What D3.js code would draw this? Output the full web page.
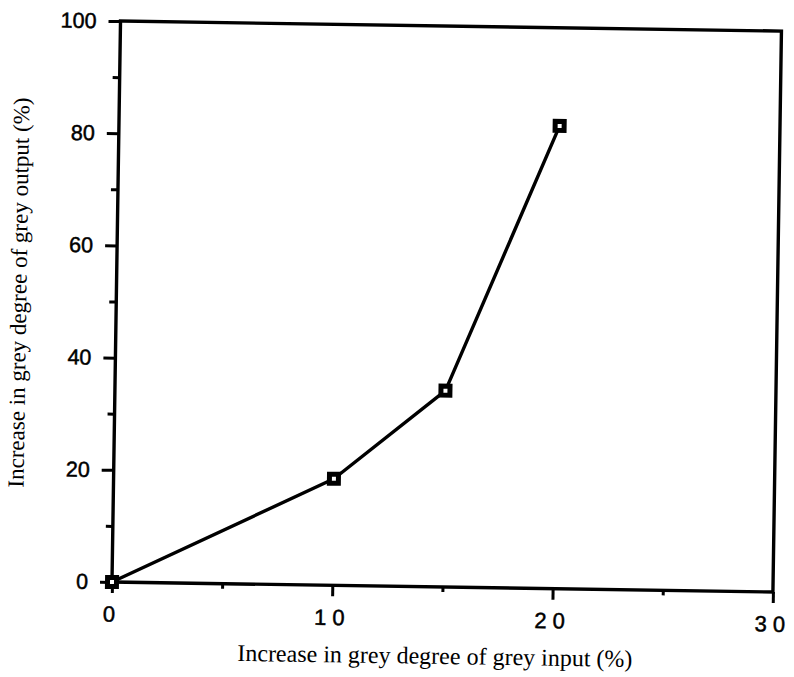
<!DOCTYPE html>
<html>
<head>
<meta charset="utf-8">
<script src="https://cdn.jsdelivr.net/npm/d3@7"></script>
<style>
  html, body { margin: 0; padding: 0; background: #fff; }
  svg { display: block; }
</style>
</head>
<body>
<svg id="chart" width="794" height="677"></svg>
<script>
// Grey degree transfer: input increase vs. output increase
const inputIncrease  = [0, 10, 15, 20];
const outputIncrease = [0, 19, 35, 82.5];

const xMajorTicks = [0, 10, 20, 30];
const xMinorTicks = [5, 15, 25];
const yMajorTicks = [0, 20, 40, 60, 80, 100];
const yMinorTicks = [10, 30, 50, 70, 90];

const xTitle = "Increase in grey degree of grey input (%)";
const yTitle = "Increase in grey degree of grey output (%)";

const plotW = 661, plotH = 561;
const originX = 112, originY = 582;
const tilt = 0.87; // the whole plate sits slightly clockwise

const svg = d3.select("#chart");
const g = svg.append("g")
  .attr("transform", `translate(${originX},${originY}) rotate(${tilt})`);

const x = d3.scaleLinear().domain([0, 30]).range([0, plotW]);
const y = d3.scaleLinear().domain([0, 100]).range([0, -plotH]);

const ink = "#000";

// X axis ticks (outward, below the frame)
const xMaj = g.append("g")
  .call(d3.axisBottom(x).tickValues(xMajorTicks).tickSize(11).tickPadding(13)
    .tickFormat(d3.format("d")));
const xMin = g.append("g")
  .call(d3.axisBottom(x).tickValues(xMinorTicks).tickSize(5).tickFormat(""));

// Y axis ticks (outward, left of the frame)
const yMaj = g.append("g")
  .call(d3.axisLeft(y).tickValues(yMajorTicks).tickSize(12).tickPadding(12)
    .tickFormat(d3.format("d")));
const yMin = g.append("g")
  .call(d3.axisLeft(y).tickValues(yMinorTicks).tickSize(7).tickFormat(""));

[xMaj, xMin, yMaj, yMin].forEach(a => {
  a.select(".domain").remove();
  a.selectAll(".tick line").attr("stroke", ink).attr("stroke-width", 3);
});

xMaj.selectAll(".tick text")
  .attr("font-family", "'Liberation Sans', Arial, sans-serif")
  .attr("font-size", 22)
  .attr("letter-spacing", 6)
  .attr("fill", ink)
  .attr("stroke", ink).attr("stroke-width", 0.5);

yMaj.selectAll(".tick text")
  .attr("font-family", "'Liberation Sans', Arial, sans-serif")
  .attr("font-size", 21.5)
  .attr("fill", ink)
  .attr("stroke", ink).attr("stroke-width", 0.5);

// Frame
g.append("rect")
  .attr("x", x(0)).attr("y", y(100))
  .attr("width", x(30) - x(0)).attr("height", y(0) - y(100))
  .attr("fill", "none").attr("stroke", ink).attr("stroke-width", 3.4);

// Data line
const pts = inputIncrease.map((v, i) => [v, outputIncrease[i]]);
g.append("path")
  .datum(pts)
  .attr("d", d3.line().x(d => x(d[0])).y(d => y(d[1])))
  .attr("fill", "none").attr("stroke", ink).attr("stroke-width", 3.4)
  .attr("stroke-linejoin", "round");

// Square markers
const m = 9;
g.selectAll("rect.pt")
  .data(pts)
  .join("rect")
  .attr("class", "pt")
  .attr("x", d => x(d[0]) - m / 2)
  .attr("y", d => y(d[1]) - m / 2)
  .attr("width", m).attr("height", m)
  .attr("fill", "#fff").attr("stroke", ink).attr("stroke-width", 5);

// Axis titles
g.append("text")
  .attr("x", 324).attr("y", 77)
  .attr("text-anchor", "middle")
  .attr("font-family", "'Liberation Serif', 'Times New Roman', serif")
  .attr("font-size", 24)
  .attr("fill", ink)
  .text(xTitle);

g.append("text")
  .attr("transform", "translate(-90,-288) rotate(-90)")
  .attr("text-anchor", "middle")
  .attr("font-family", "'Liberation Serif', 'Times New Roman', serif")
  .attr("font-size", 23)
  .attr("fill", ink)
  .text(yTitle);
</script>
</body>
</html>
